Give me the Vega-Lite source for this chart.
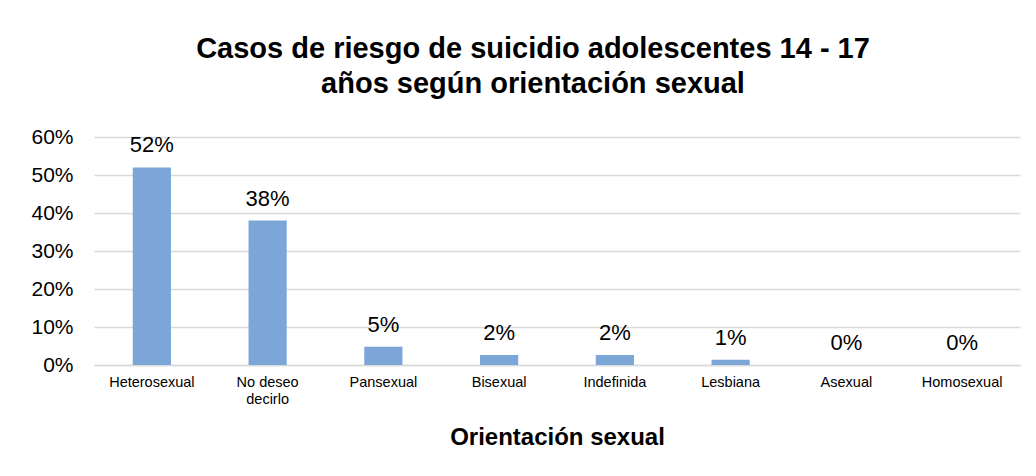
{
  "$schema": "https://vega.github.io/schema/vega-lite/v6.json",
  "width": 926,
  "height": 228,
  "autosize": "none",
  "padding": {"left": 94, "top": 137, "right": 16, "bottom": 111},
  "background": "white",
  "title": {
    "text": ["Casos de riesgo de suicidio adolescentes 14 - 17", "años según orientación sexual"],
    "font": "Liberation Sans",
    "fontSize": 29,
    "fontWeight": "bold",
    "color": "#000000",
    "lineHeight": 35,
    "anchor": "middle",
    "dx": -24,
    "offset": 27
  },
  "data": {
    "values": [
      {"orientacion": "Heterosexual", "valor": 0.52, "etiqueta": "52%"},
      {"orientacion": "No deseo decirlo", "valor": 0.38, "etiqueta": "38%"},
      {"orientacion": "Pansexual", "valor": 0.048, "etiqueta": "5%"},
      {"orientacion": "Bisexual", "valor": 0.026, "etiqueta": "2%"},
      {"orientacion": "Indefinida", "valor": 0.026, "etiqueta": "2%"},
      {"orientacion": "Lesbiana", "valor": 0.014, "etiqueta": "1%"},
      {"orientacion": "Asexual", "valor": 0, "etiqueta": "0%"},
      {"orientacion": "Homosexual", "valor": 0, "etiqueta": "0%"}
    ]
  },
  "encoding": {
    "x": {
      "field": "orientacion",
      "type": "nominal",
      "sort": null,
      "scale": {"paddingInner": 0.67, "paddingOuter": 0.335},
      "axis": {
        "title": "Orientación sexual",
        "titleFont": "Liberation Sans",
        "titleFontSize": 24,
        "titleFontWeight": "bold",
        "titleColor": "#000000",
        "titlePadding": 20,
        "labelFont": "Liberation Sans",
        "labelFontSize": 14.5,
        "labelColor": "#000000",
        "labelAngle": 0,
        "labelPadding": 10,
        "labelLineHeight": 17,
        "labelExpr": "datum.label == 'No deseo decirlo' ? ['No deseo', 'decirlo'] : datum.label",
        "ticks": false,
        "domain": true,
        "domainColor": "#D9D9D9",
        "domainWidth": 1.5,
        "grid": false
      }
    },
    "y": {
      "field": "valor",
      "type": "quantitative",
      "scale": {"domain": [0, 0.6], "nice": false},
      "axis": {
        "title": null,
        "format": ".0%",
        "values": [0, 0.1, 0.2, 0.3, 0.4, 0.5, 0.6],
        "labelFont": "Liberation Sans",
        "labelFontSize": 21,
        "labelColor": "#000000",
        "labelPadding": 21,
        "ticks": false,
        "domain": false,
        "grid": true,
        "gridColor": "#D9D9D9",
        "gridWidth": 1.5
      }
    }
  },
  "layer": [
    {
      "mark": {"type": "bar", "color": "#7DA6D8"}
    },
    {
      "mark": {
        "type": "text",
        "font": "Liberation Sans",
        "fontSize": 22,
        "color": "#000000",
        "baseline": "alphabetic",
        "dy": -15
      },
      "encoding": {"text": {"field": "etiqueta"}}
    }
  ],
  "config": {"view": {"stroke": null}}
}
